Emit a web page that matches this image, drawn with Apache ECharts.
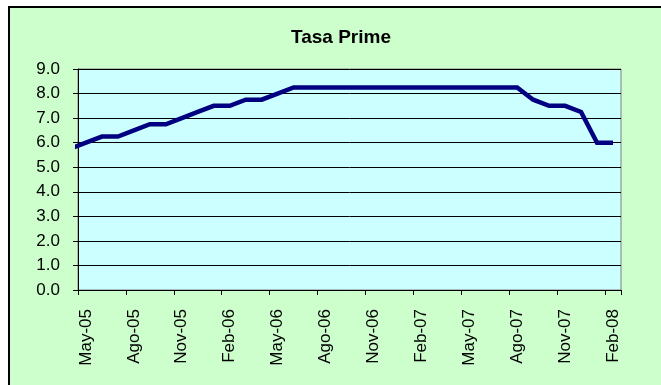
<!DOCTYPE html>
<html>
<head>
<meta charset="utf-8">
<title>Tasa Prime</title>
<script src="https://cdn.jsdelivr.net/npm/echarts@6/dist/echarts.min.js"></script>
<style>
  html, body { margin: 0; padding: 0; background: #ffffff; }
  #chart { width: 661px; height: 385px; }
</style>
</head>
<body>
<div id="chart"></div>
<script>
// Monthly category labels, May-05 through Feb-08
const months = [
  'May-05', 'Jun-05', 'Jul-05', 'Ago-05', 'Sep-05', 'Oct-05', 'Nov-05', 'Dic-05',
  'Ene-06', 'Feb-06', 'Mar-06', 'Abr-06', 'May-06', 'Jun-06', 'Jul-06', 'Ago-06',
  'Sep-06', 'Oct-06', 'Nov-06', 'Dic-06', 'Ene-07', 'Feb-07', 'Mar-07', 'Abr-07',
  'May-07', 'Jun-07', 'Jul-07', 'Ago-07', 'Sep-07', 'Oct-07', 'Nov-07', 'Dic-07',
  'Ene-08', 'Feb-08'
];

// Prime rate (%) at month end, one value per month above
const prime = [
  6.00, 6.25, 6.25, 6.50, 6.75, 6.75, 7.00, 7.25,
  7.50, 7.50, 7.75, 7.75, 8.00, 8.25, 8.25, 8.25,
  8.25, 8.25, 8.25, 8.25, 8.25, 8.25, 8.25, 8.25,
  8.25, 8.25, 8.25, 8.25, 7.75, 7.50, 7.50, 7.25,
  6.00, 6.00
];

// Rate for the month before the first category (Abr-05); the line enters from the left edge
const priorMonthRate = 5.75;

// y-axis tick values
const yTicks = [0, 1, 2, 3, 4, 5, 6, 7, 8, 9];

const lineData = [[-1, priorMonthRate]].concat(prime.map((v, i) => [i, v]));

const FONT = '"Liberation Sans", Arial, sans-serif';

const chart = echarts.init(document.getElementById('chart'), null, { renderer: 'canvas' });

chart.setOption({
  backgroundColor: '#ffffff',
  animation: false,
  graphic: [{
    type: 'rect',
    z: -10,
    silent: true,
    shape: { x: 9, y: 7, width: 700, height: 420 },
    style: { fill: '#CCFFCC', stroke: '#000000', lineWidth: 2 }
  }],
  title: {
    text: 'Tasa Prime',
    left: 336,
    top: 23,
    textAlign: 'center',
    textStyle: { fontFamily: FONT, fontWeight: 'bold', fontSize: 19, color: '#000000' }
  },
  grid: {
    left: 78,
    top: 69,
    width: 543,
    height: 221,
    show: true,
    backgroundColor: '#CCFFFF',
    borderColor: '#808080',
    borderWidth: 1
  },
  xAxis: [{
    type: 'category',
    data: months,
    boundaryGap: true,
    axisLine: { show: true, onZero: false, lineStyle: { color: '#000000', width: 1 } },
    axisTick: { show: true, interval: 2, length: 5, alignWithLabel: false, lineStyle: { color: '#000000' } },
    axisLabel: {
      interval: 2,
      rotate: 90,
      margin: 19,
      fontFamily: FONT,
      fontSize: 17,
      color: '#000000'
    },
    splitLine: { show: false }
  }, {
    type: 'value',
    min: -0.5,
    max: months.length - 0.5,
    show: false,
    axisLine: { show: false, onZero: false },
    splitLine: { show: false }
  }],
  yAxis: {
    type: 'value',
    min: yTicks[0],
    max: yTicks[yTicks.length - 1],
    interval: 1,
    axisLine: { show: true, onZero: false, lineStyle: { color: '#000000', width: 1 } },
    axisTick: { show: true, length: 5, lineStyle: { color: '#000000' } },
    axisLabel: {
      margin: 18,
      fontFamily: FONT,
      fontSize: 17,
      color: '#000000',
      formatter: v => v.toFixed(1)
    },
    splitLine: { show: true, lineStyle: { color: '#000000', width: 1 } }
  },
  series: [{
    name: 'Tasa Prime',
    type: 'line',
    xAxisIndex: 1,
    data: lineData,
    clip: true,
    showSymbol: false,
    symbol: 'none',
    lineStyle: { color: '#000080', width: 4.5, join: 'miter' }
  }]
});
</script>
</body>
</html>
